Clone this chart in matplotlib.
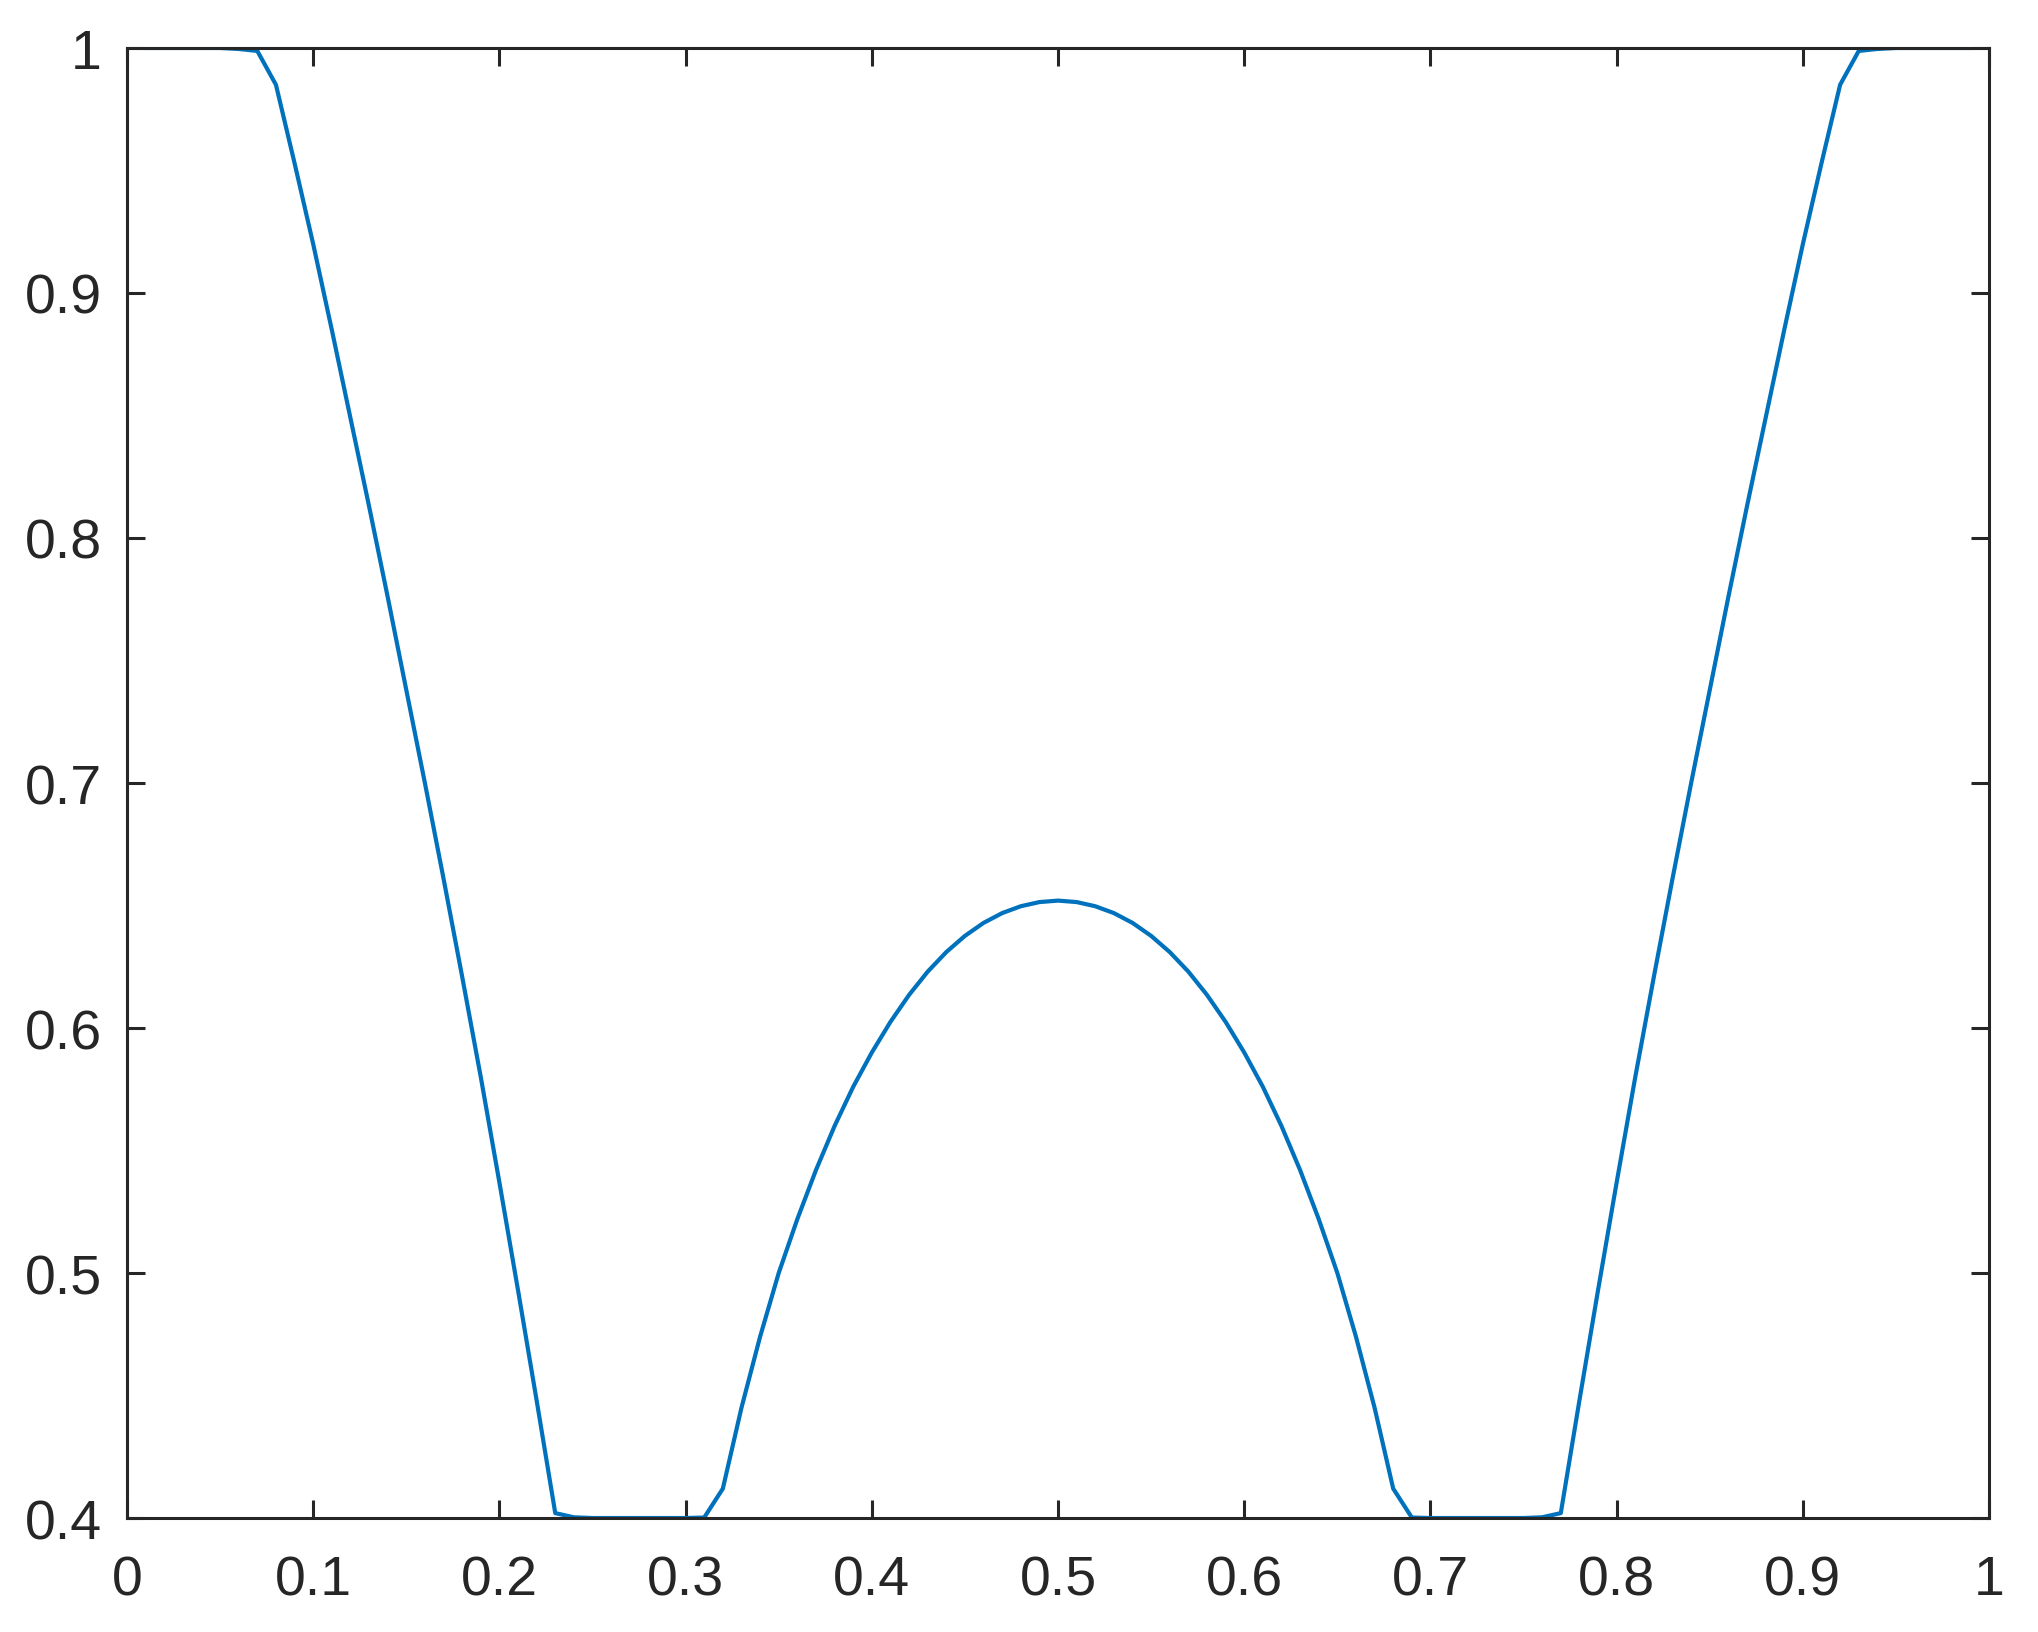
import matplotlib
matplotlib.use('Agg')
import matplotlib.pyplot as plt
import numpy as np

# sample positions and values (step 0.01, 0.01..0.99)
x = np.round(np.arange(1, 100) / 100.0, 2)
y = [1.0, 1.0, 1.0, 1.0, 1.0, 0.9996, 0.9988,
     0.985, 0.953, 0.920, 0.885, 0.849, 0.813, 0.776, 0.738, 0.700,
     0.661, 0.621, 0.580, 0.537, 0.493, 0.448, 0.402,
     0.4003, 0.4, 0.4, 0.4, 0.4, 0.4, 0.4, 0.4002,
     0.412, 0.445, 0.474, 0.500, 0.522, 0.542, 0.560, 0.576, 0.590,
     0.6025, 0.6135, 0.623, 0.631, 0.6376, 0.6429, 0.6469, 0.6497, 0.6514,
     0.652,
     0.6514, 0.6497, 0.6469, 0.6429, 0.6376, 0.631, 0.623, 0.6135, 0.6025,
     0.590, 0.576, 0.560, 0.542, 0.522, 0.500, 0.474, 0.445, 0.412,
     0.4002, 0.4, 0.4, 0.4, 0.4, 0.4, 0.4, 0.4003,
     0.402, 0.448, 0.493, 0.537, 0.580, 0.621, 0.661,
     0.700, 0.738, 0.776, 0.813, 0.849, 0.885, 0.920, 0.953, 0.985,
     0.9988, 0.9996, 1.0, 1.0, 1.0, 1.0, 1.0]

xticks = [0, 0.1, 0.2, 0.3, 0.4, 0.5, 0.6, 0.7, 0.8, 0.9, 1]
xticklabels = ['0', '0.1', '0.2', '0.3', '0.4', '0.5', '0.6', '0.7', '0.8', '0.9', '1']
yticks = [0.4, 0.5, 0.6, 0.7, 0.8, 0.9, 1]
yticklabels = ['0.4', '0.5', '0.6', '0.7', '0.8', '0.9', '1']

plt.rcParams['font.family'] = ['Liberation Sans', 'DejaVu Sans']
dark = '#262626'

fig = plt.figure(figsize=(20.38, 16.33), dpi=100)
ax = fig.add_axes([0.0623, 0.0698, 0.9137, 0.9002])

ax.plot(x, y, color='#0072BD', linewidth=3.0)

ax.set_xlim(0, 1)
ax.set_ylim(0.4, 1)
ax.set_xticks(xticks)
ax.set_xticklabels(xticklabels)
ax.set_yticks(yticks)
ax.set_yticklabels(yticklabels)

for s in ax.spines.values():
    s.set_linewidth(2.2)
    s.set_color(dark)

ax.tick_params(axis='both', direction='in', length=13, width=2.2, color=dark,
               labelcolor=dark, labelsize=40, top=True, right=True)
ax.tick_params(axis='y', pad=18)
ax.tick_params(axis='x', pad=26)

fig.savefig('out.png', dpi=100)
